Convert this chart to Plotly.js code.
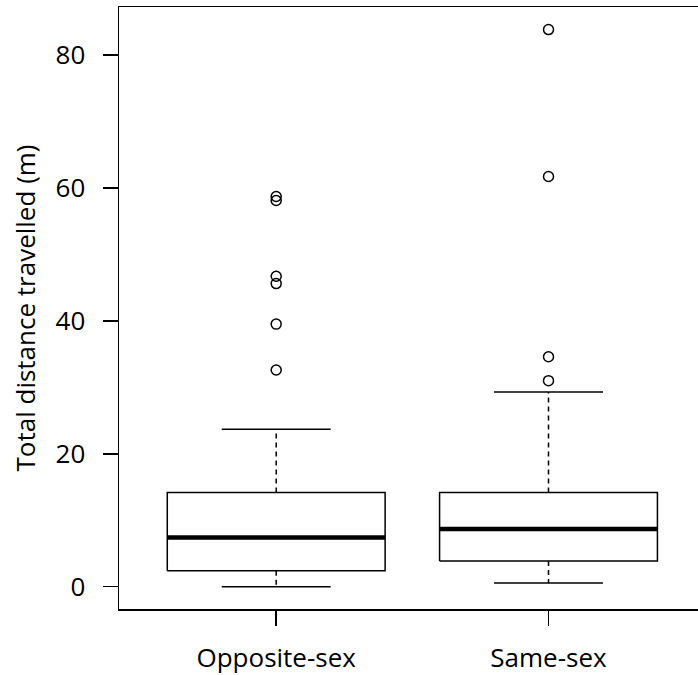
<!DOCTYPE html>
<html>
<head>
<meta charset="utf-8">
<script src="https://cdn.plot.ly/plotly-3.0.1.min.js"></script>
<style>html,body{margin:0;padding:0;background:#fff;}#chart{width:698px;height:675px;}</style>
</head>
<body>
<div id="chart"></div>
<script>
// Data
var categories = ['Opposite-sex', 'Same-sex'];
var lowerWhisker = [0.0, 0.56];
var q1 = [2.4, 3.86];
var median = [7.41, 8.68];
var q3 = [14.18, 14.18];
var upperWhisker = [23.7, 29.3];
var outliersOpposite = [58.7, 58.1, 46.7, 45.6, 39.5, 32.6];
var outliersSame = [83.8, 61.7, 34.6, 31.0];
var yTicks = [0, 20, 40, 60, 80];

var positions = categories.map(function(c, i){ return i + 1; });
var half = 0.4, capHalf = 0.2;

var boxX = [], boxY = [], medX = [], medY = [], whX = [], whY = [], capX = [], capY = [];
positions.forEach(function(p, i){
  boxX.push(p-half, p+half, p+half, p-half, p-half, null);
  boxY.push(q1[i], q1[i], q3[i], q3[i], q1[i], null);
  medX.push(p-half, p+half, null);
  medY.push(median[i], median[i], null);
  whX.push(p, p, null, p, p, null);
  whY.push(q3[i], upperWhisker[i], null, q1[i], lowerWhisker[i], null);
  capX.push(p-capHalf, p+capHalf, null, p-capHalf, p+capHalf, null);
  capY.push(upperWhisker[i], upperWhisker[i], null, lowerWhisker[i], lowerWhisker[i], null);
});
var outX = [], outY = [];
outliersOpposite.forEach(function(v){ outX.push(positions[0]); outY.push(v); });
outliersSame.forEach(function(v){ outX.push(positions[1]); outY.push(v); });

var black = '#000';
var traces = [
  {x: whX, y: whY, mode: 'lines', line: {color: black, width: 1.5, dash: '5px,4px'}, hoverinfo: 'skip'},
  {x: capX, y: capY, mode: 'lines', line: {color: black, width: 1.5}, hoverinfo: 'skip'},
  {x: boxX, y: boxY, mode: 'lines', line: {color: black, width: 1.5}, fill: 'none', hoverinfo: 'skip'},
  {x: medX, y: medY, mode: 'lines', line: {color: black, width: 4.5}, hoverinfo: 'skip'},
  {x: outX, y: outY, mode: 'markers', marker: {symbol: 'circle-open', size: 10, color: black, line: {width: 1.5, color: black}}}
];

var font = {family: '"Open Sans", "Noto Sans", sans-serif', color: '#000'};
var layout = {
  width: 698, height: 675,
  margin: {l: 119, r: 0, t: 7, b: 66, pad: 0},
  showlegend: false,
  paper_bgcolor: '#fff', plot_bgcolor: '#fff',
  font: font,
  xaxis: {
    range: [0.4227, 2.549], showgrid: false, zeroline: false,
    showline: true, mirror: true, linecolor: black, linewidth: 1.5,
    ticks: 'outside', ticklen: 15, tickwidth: 1.5, tickcolor: black,
    tickvals: positions, ticktext: categories,
    tickfont: {family: font.family, size: 26, color: black},
    ticklabelstandoff: 10
  },
  yaxis: {
    range: [-3.35, 87.2], showgrid: false, zeroline: false,
    showline: true, mirror: false, linecolor: black, linewidth: 1.5,
    ticks: 'outside', ticklen: 15, tickwidth: 1.5, tickcolor: black,
    tickvals: yTicks, ticktext: yTicks.map(String),
    tickfont: {family: font.family, size: 26, color: black},
    ticklabelstandoff: 12,
    title: {text: 'Total distance travelled (m)', font: {family: font.family, size: 26, color: black}, standoff: 12}
  }
};

Plotly.newPlot('chart', traces, layout, {displayModeBar: false, staticPlot: true});
</script>
</body>
</html>
